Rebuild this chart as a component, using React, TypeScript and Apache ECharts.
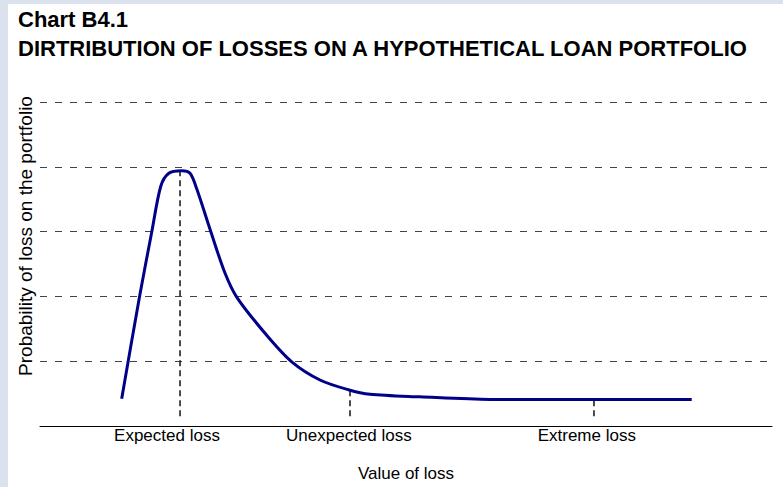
import React, { useEffect, useRef } from "react";
import * as echarts from "echarts";

const FONT = "'Liberation Sans', Arial, Helvetica, sans-serif";

const titleLines = ["Chart B4.1", "DIRTRIBUTION OF LOSSES ON A HYPOTHETICAL LOAN PORTFOLIO"];
const xAxisName = "Value of loss";
const yAxisName = "Probability of loss on the portfolio";

// loss curve: [value of loss, probability]
const curveX = [11.16, 13.57, 15.26, 16.5, 17.6, 19.36, 20.5, 21.41, 23.36, 25.27, 26.87, 30.97, 34.39, 38.25, 42.12, 45.08, 51.91, 61.48, 89.03];
const curveY = [0.42, 1.98, 2.99, 3.7, 3.9, 3.94, 3.9, 3.66, 2.99, 2.36, 1.99, 1.4, 0.99, 0.71, 0.56, 0.49, 0.45, 0.41, 0.41];

// marker positions (x), their top (curve value) and bottom
const markerNames = ["Expected loss", "Unexpected loss", "Extreme loss"];
const markerX = [19.13, 42.35, 75.68];
const markerTop = [3.94, 0.56, 0.41];
const markerBottom = 0.15;
const labelX = [17.35, 42.2, 74.7];

export default function App() {
  const ref = useRef<HTMLDivElement>(null);
  useEffect(() => {
    if (!ref.current) return;
    const chart = echarts.init(ref.current, undefined, { renderer: "svg" });
    const curve = curveX.map((x, i) => [x, curveY[i]]);
    const markerSeries = markerX.map((x, i) => ({
      type: "line",
      data: [
        [x, markerBottom],
        [x, markerTop[i]],
      ],
      symbol: "none",
      z: 1,
      lineStyle: { color: "#111", width: 1.5, type: [6, 4] },
      silent: true,
    }));
    chart.setOption({
      animation: false,
      backgroundColor: "#ffffff",
      textStyle: { fontFamily: FONT },
      title: {
        text: titleLines.join("\n"),
        left: 18,
        top: 5,
        padding: 0,
        textStyle: { fontFamily: FONT, fontSize: 22, fontWeight: "bold", color: "#000", lineHeight: 29 },
      },
      graphic: [
        { type: "rect", left: 0, top: 0, shape: { width: 8, height: 487 }, style: { fill: "#dbe2ee" }, silent: true },
        { type: "rect", left: 0, top: 0, shape: { width: 783, height: 4 }, style: { fill: "#dbe2ee" }, silent: true },
        {
          type: "text",
          x: 25,
          y: 236,
          rotation: Math.PI / 2,
          style: {
            text: yAxisName,
            fontFamily: FONT,
            fontSize: 19,
            fill: "#000",
            textAlign: "center",
            textVerticalAlign: "middle",
          },
          silent: true,
        },
      ],
      grid: { left: 40, right: 11, top: 102, bottom: 57 },
      xAxis: {
        type: "value",
        min: 0,
        max: 100,
        name: xAxisName,
        nameLocation: "middle",
        nameGap: 39,
        nameTextStyle: { fontFamily: FONT, fontSize: 17, color: "#000" },
        axisLine: { show: true, lineStyle: { color: "#000", width: 1 } },
        axisTick: { show: false },
        splitLine: { show: false },
        axisLabel: {
          customValues: labelX,
          margin: 1,
          fontFamily: FONT,
          fontSize: 17,
          color: "#000",
          formatter: (v: number) => {
            const i = labelX.findIndex((l) => Math.abs(l - v) < 1e-6);
            return i >= 0 ? markerNames[i] : "";
          },
        },
      },
      yAxis: {
        type: "value",
        min: 0,
        max: 5,
        interval: 1,
        axisLine: { show: false },
        axisTick: { show: false },
        axisLabel: { show: false },
        splitLine: { show: true, lineStyle: { color: "#444", width: 1, type: [7, 8] } },
      },
      series: [
        ...markerSeries,
        {
          type: "line",
          data: curve,
          symbol: "none",
          smooth: 0.3,
          z: 3,
          lineStyle: { color: "#000088", width: 3 },
        },
      ],
    });
    return () => chart.dispose();
  }, []);
  return (
    <div style={{ position: "fixed", left: 0, top: 0, width: 783, height: 487 }}>
      <div ref={ref} style={{ width: 783, height: 487 }} />
    </div>
  );
}
